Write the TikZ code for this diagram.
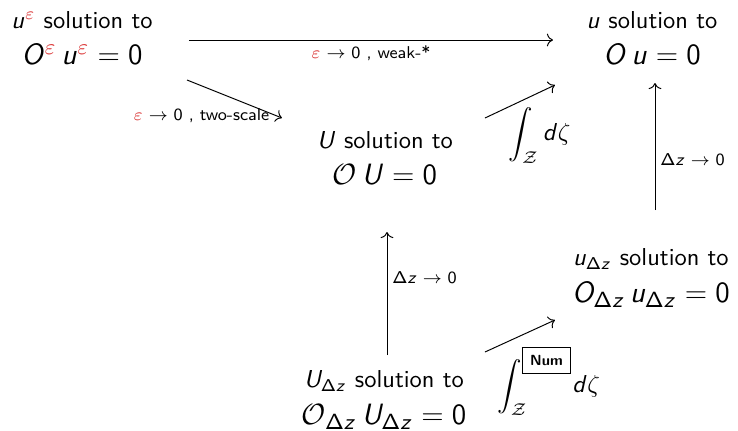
\documentclass[tikz,border=0pt]{standalone}
\usepackage{amsmath}
\usetikzlibrary{arrows.meta,positioning,calc}
\renewcommand{\familydefault}{\sfdefault}
% sans serif math letters and digits
\DeclareSymbolFont{sfitalic}{OT1}{cmss}{m}{sl}
\SetSymbolFont{operators}{normal}{OT1}{cmss}{m}{n}
\DeclareMathSymbol{d}{\mathalpha}{sfitalic}{`d}
\DeclareMathSymbol{u}{\mathalpha}{sfitalic}{`u}
\DeclareMathSymbol{z}{\mathalpha}{sfitalic}{`z}
\DeclareMathSymbol{O}{\mathalpha}{sfitalic}{`O}
\DeclareMathSymbol{U}{\mathalpha}{sfitalic}{`U}
\definecolor{EpsRed}{rgb}{0.86,0.22,0.22}
\newcommand{\epsr}{\textcolor{EpsRed}{\varepsilon}}
\newcommand{\numbox}{\fbox{\fontsize{6}{7}\selectfont\bfseries Num}}
\newcommand{\eqsize}{\fontsize{12.4}{15}\selectfont}

\begin{document}
\begin{tikzpicture}[x=0.014363cm,y=-0.014363cm,
    sol/.style={inner sep=0pt,align=center},
    lab/.style={font=\scriptsize,inner sep=2pt},
    arr/.style={->}]
  \useasboundingbox (0,0) rectangle (738,430);
  % the five problems
  \node[sol] (ue) at (82,38) {$u^{\epsr}$ solution to\\[3pt]{\eqsize $O^{\epsr}\,u^{\epsr}=0$}};
  \node[sol] (u) at (652,38) {$u$ solution to\\[3pt]{\eqsize $O\,u=0$}};
  \node[sol] (U) at (385,158) {$U$ solution to\\[3pt]{\eqsize $\mathcal{O}\,U=0$}};
  \node[sol] (udz) at (651,278) {$u_{\Delta z}$ solution to\\[3pt]{\eqsize $O_{\Delta z}\,u_{\Delta z}=0$}};
  \node[sol] (Udz) at (384,400) {$U_{\Delta z}$ solution to\\[3pt]{\eqsize $\mathcal{O}_{\Delta z}\,U_{\Delta z}=0$}};
  % limits
  \draw[arr] ([shift={(107,2)}]ue.center) -- node[lab,below]{$\epsr\to0$ , weak-*} ([shift={(-99,2)}]u.center);
  \draw[arr] ([shift={(105,42)}]ue.center) -- node[lab,pos=1,anchor=east,xshift=-3pt,yshift=1pt]{$\epsr\to0$ , two-scale} ([shift={(-103,-40)}]U.center);
  \draw[arr] ([shift={(100,-40)}]U.center) -- node[pos=0.33,anchor=north west,inner sep=0pt]{$\displaystyle\int_{\mathcal{Z}}d\zeta$} ([shift={(-97,47)}]u.center);
  \draw[arr] ([shift={(4,-68)}]udz.center) -- node[lab,right,pos=0.4]{$\Delta z\to0$} ([shift={(3,45)}]u.center);
  \draw[arr] ([shift={(3,-45)}]Udz.center) -- node[lab,right,pos=0.63]{$\Delta z\to0$} ([shift={(2,74)}]U.center);
  \draw[arr] ([shift={(101,-48)}]Udz.center) -- node[pos=0.17,anchor=north west,inner sep=0pt]{$\displaystyle\int_{\mathcal{Z}}^{\numbox}\!d\zeta$} ([shift={(-96,42)}]udz.center);
\end{tikzpicture}
\end{document}
